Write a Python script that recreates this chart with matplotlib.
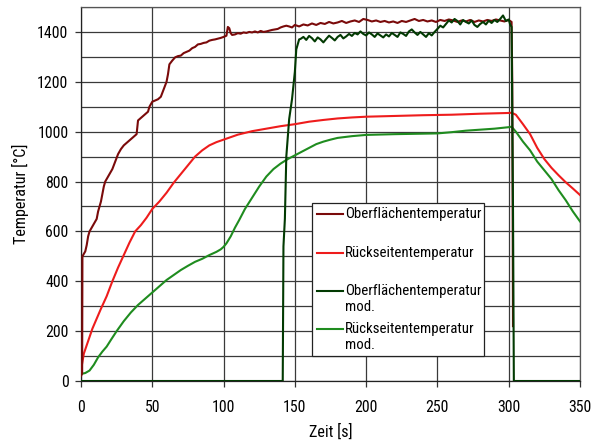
import matplotlib
matplotlib.use("Agg")
import matplotlib.pyplot as plt
from matplotlib import font_manager
from matplotlib.font_manager import FontProperties
from matplotlib.lines import Line2D
from matplotlib.patches import Rectangle

# ---- pick a narrow sans font if available ----
def pick_font():
    prefs = ['liberation sans narrow', 'roboto condensed', 'dejavu sans condensed',
             'noto sans condensed', 'open sans condensed', 'noto sans', 'roboto', 'open sans']
    cands = []
    for f in font_manager.fontManager.ttflist:
        nm = f.name.lower()
        fn = f.fname.lower()
        st = f.stretch
        narrow = ('narrow' in nm or 'condensed' in nm or 'narrow' in fn or 'condensed' in fn
                  or (isinstance(st, str) and 'condensed' in st)
                  or (isinstance(st, (int, float)) and st < 500))
        if not narrow:
            continue
        if f.style != 'normal':
            continue
        w = f.weight
        if isinstance(w, str):
            if w not in ('normal', 'regular', 'book'):
                continue
        elif w != 400:
            continue
        if 'semi' in fn or 'extra' in fn or 'ultra' in fn:
            continue
        rank = len(prefs)
        for i, p in enumerate(prefs):
            if p.split()[0] in nm:
                rank = i
                break
        if 'liberation' in nm and 'narrow' in (nm + fn):
            rank = 0
        cands.append((rank, f.fname))
    if cands:
        cands.sort()
        return cands[0][1]
    return None

FPATH = pick_font()
plt.rcParams['font.family'] = ['Liberation Sans', 'DejaVu Sans']

def fp(size):
    if FPATH:
        return FontProperties(fname=FPATH, size=size)
    return FontProperties(family=['Liberation Sans', 'DejaVu Sans'], size=size)

# ---- data ----
ob_t = [0, 0.8, 1.0, 2, 3, 4, 5, 6, 7, 8, 9, 10, 11, 12, 13, 14, 15, 16, 17, 18, 19, 20,
        22, 24, 26, 28, 30, 32, 34, 36, 38, 39, 40, 42, 44, 46, 47, 48, 49, 50, 52, 54, 56,
        58, 60, 61, 62, 64, 66, 68, 70, 72, 74, 76, 78, 80, 82, 84, 86, 88, 90, 92, 94, 96,
        98, 100, 102, 103, 104, 105, 106, 108, 110, 112, 114, 116, 118, 120, 122, 124, 126,
        128, 130, 132, 134, 136, 138, 140, 142, 144, 146, 148,
        150, 153, 156, 159, 162, 165, 168, 171, 174, 177, 180, 183, 186, 189, 192, 195, 198,
        201, 204, 207, 210, 213, 216, 219, 222, 225, 228, 231, 234, 237, 240, 243, 246, 249,
        252, 255, 258, 261, 264, 267, 270, 273, 276, 279, 282, 285, 288, 291, 294, 297, 300,
        302, 302.5, 303]
ob_v = [20, 30, 500, 510, 520, 545, 580, 600, 610, 620, 630, 640, 650, 680, 700, 720, 750,
        780, 800, 810, 820, 830, 850, 880, 910, 930, 945, 955, 965, 975, 985, 990, 1045, 1055,
        1065, 1075, 1080, 1100, 1110, 1120, 1125, 1130, 1140, 1170, 1200, 1230, 1270, 1285,
        1298, 1303, 1305, 1315, 1320, 1325, 1335, 1340, 1350, 1352, 1356, 1358, 1365, 1368,
        1370, 1373, 1376, 1380, 1385, 1420, 1415, 1395, 1388, 1390, 1395, 1393, 1398, 1396,
        1400, 1398, 1402, 1398, 1404, 1400, 1402, 1405, 1408, 1410, 1412, 1418, 1422, 1425,
        1422, 1418,
        1428, 1422, 1430, 1426, 1434, 1428, 1436, 1432, 1440, 1434, 1438, 1444, 1436, 1442,
        1446, 1440, 1452, 1448, 1442, 1446, 1440, 1444, 1438, 1442, 1436, 1444, 1440, 1446,
        1452, 1444, 1448, 1442, 1446, 1440, 1448, 1444, 1450, 1446, 1440, 1446, 1442, 1448,
        1440, 1446, 1442, 1448, 1444, 1450, 1446, 1442, 1448, 1440, 1200, 220]

rs_t = [0, 0.5, 2, 5, 8, 11, 14, 18, 22, 26, 30, 34, 38, 42, 46, 50, 55, 60, 65, 70, 75, 80,
        85, 90, 95, 100, 105, 110, 115, 120, 125, 130, 140, 150, 160, 170, 180, 190, 200, 220,
        240, 260, 280, 300, 302, 305, 310, 315, 320, 325, 330, 335, 340, 345, 350]
rs_v = [30, 60, 110, 160, 210, 250, 290, 340, 400, 455, 505, 555, 600, 625, 655, 690, 720,
        755, 795, 830, 865, 900, 925, 945, 958, 968, 978, 988, 995, 1002, 1007, 1012, 1022,
        1030, 1040, 1047, 1053, 1057, 1060, 1063, 1066, 1068, 1072, 1075, 1076, 1068, 1030,
        990, 935, 890, 855, 825, 797, 772, 746]

obm_t = [0, 141, 141.5, 142, 143, 144, 146, 148, 150, 151, 152, 153,
         154, 156, 158, 160, 162, 164, 166, 168, 170, 172, 174, 176, 178, 180, 182, 184, 186,
         188, 190, 192, 194, 196, 198, 200, 202, 204, 206, 208, 210, 212, 214, 216, 218, 220,
         222, 224, 226, 228, 230, 232, 234, 236, 238, 240, 242, 244, 246, 248, 250, 252, 254,
         256, 258, 260, 262, 264, 266, 268, 270, 272, 274, 276, 278, 280, 282, 284, 286, 288,
         290, 292, 294, 296, 298, 300, 301, 302, 303, 303.6, 350]
obm_v = [0, 0, 0, 540, 650, 900, 1050, 1130, 1240, 1330, 1350, 1370,
         1372, 1380, 1368, 1384, 1375, 1362, 1378, 1370, 1358, 1372, 1385, 1376, 1366, 1380,
         1388, 1374, 1382, 1392, 1384, 1396, 1390, 1402, 1392, 1386, 1398, 1390, 1380, 1394,
         1386, 1378, 1390, 1382, 1396, 1388, 1380, 1398, 1392, 1384, 1402, 1410, 1398, 1388,
         1400, 1390, 1380, 1395, 1386, 1400, 1412, 1425, 1418, 1432, 1446, 1438, 1452, 1444,
         1430, 1448, 1440, 1434, 1446, 1428, 1420, 1432, 1440, 1430, 1445, 1436, 1448, 1440,
         1452, 1466, 1444, 1450, 1430, 1420, 700, 0, 0]

rsm_t = [0, 3, 6, 9, 12, 15, 18, 21, 25, 30, 35, 40, 45, 50, 55, 60, 65, 70, 75, 80, 85, 90,
         95, 98, 100, 102, 105, 108, 111, 115, 120, 125, 130, 135, 140, 145, 150, 155, 160,
         165, 170, 175, 180, 190, 200, 220, 240, 250, 260, 270, 280, 290, 300, 302, 305, 310,
         315, 320, 325, 330, 335, 340, 345, 350]
rsm_v = [28, 32, 42, 65, 95, 118, 138, 165, 200, 240, 275, 305, 330, 355, 380, 405, 425, 445,
         462, 478, 490, 505, 518, 528, 538, 552, 580, 615, 646, 690, 735, 780, 820, 850, 872,
         890, 905, 920, 935, 950, 960, 968, 975, 982, 987, 990, 992, 993, 998, 1004, 1008,
         1012, 1018, 1020, 1000, 960, 925, 880, 845, 810, 765, 725, 680, 640]

labels = ['Oberflächentemperatur', 'Rückseitentemperatur',
          'Oberflächentemperatur\nmod.', 'Rückseitentemperatur\nmod.']
colors = ['#7a0a0a', '#ee1c1c', '#023a02', '#1f8c1f']

W, H = 595, 443
fig = plt.figure(figsize=(W / 100, H / 100), dpi=100)
renderer = fig.canvas.get_renderer()


def fit(text, target_px):
    t = fig.text(0, 0, text, fontproperties=fp(10))
    w = t.get_window_extent(renderer).width
    t.remove()
    return 10 * target_px / w


TICK = min(fit('1400', 31), 13.5)
LAB = min(fit('Zeit [s]', 43), 13.5)
LEG = fit('Oberflächentemperatur', 135)

ax = fig.add_axes([81 / W, 1 - 381 / H, (580 - 81) / W, (381 - 7) / H])

ax.plot(rs_t, rs_v, color=colors[1], lw=1.5, zorder=3)
ax.plot(rsm_t, rsm_v, color=colors[3], lw=1.5, zorder=3)
ax.plot(ob_t, ob_v, color=colors[0], lw=1.5, zorder=4)
ax.plot(obm_t, obm_v, color=colors[2], lw=1.5, zorder=5)

ax.set_xlim(0, 350)
ax.set_ylim(0, 1500)
ax.set_xticks(range(0, 351, 50))
ax.set_yticks(range(0, 1401, 200))
ax.set_yticks(range(100, 1501, 200), minor=True)
ax.grid(True, which='both', color='#3a3a3a', lw=0.9)
ax.tick_params(which='major', length=4, width=0.9, color='#333333',
               direction='out', pad=5)
ax.tick_params(axis='x', pad=10)
ax.tick_params(which='minor', length=0)
for lbl in ax.get_xticklabels() + ax.get_yticklabels():
    lbl.set_fontproperties(fp(TICK))
for s in ax.spines.values():
    s.set_color('#555555')
    s.set_linewidth(0.9)
ax.spines['left'].set_color('#222222')
ax.spines['bottom'].set_color('#222222')
ax.set_xlabel('Zeit [s]', fontproperties=fp(LAB), labelpad=6)
ax.set_ylabel('Temperatur [°C]', fontproperties=fp(LAB), labelpad=6)

# legend box (figure pixel layout)
def fx(x):
    return x / W

def fy(y):
    return 1 - y / H

fig.patches.append(Rectangle((fx(312), fy(356)), fx(484) - fx(312), fy(203) - fy(356),
                             transform=fig.transFigure, facecolor='white',
                             edgecolor='#222222', lw=0.9, zorder=10))
rows = [214, 253, 291, 329]
for lab, col, yy in zip(labels, colors, rows):
    fig.add_artist(Line2D([fx(317), fx(343)], [fy(yy), fy(yy)], color=col, lw=1.5,
                          transform=fig.transFigure, zorder=11))
    fig.text(fx(345), fy(yy - 7), lab, fontproperties=fp(LEG), va='top', ha='left',
             zorder=11, linespacing=1.15, transform=fig.transFigure)

fig.savefig('out.png', dpi=100)
